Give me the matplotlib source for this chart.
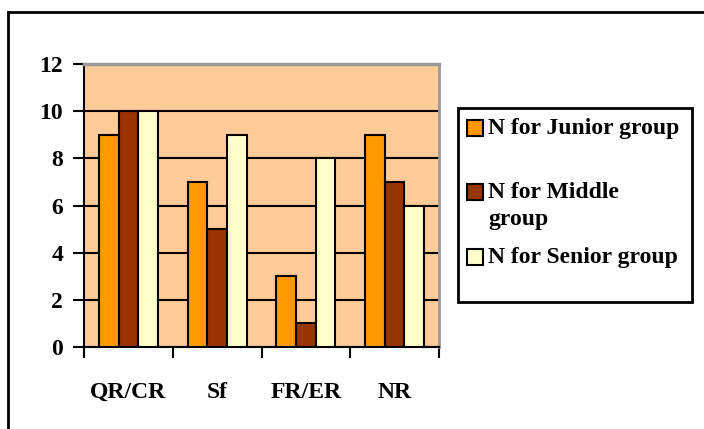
import numpy as np
import matplotlib
matplotlib.use('Agg')
import matplotlib.pyplot as plt
from matplotlib.patches import Rectangle
from matplotlib.lines import Line2D

categories = ['QR/CR', 'Sf', 'FR/ER', 'NR']
series_names = ['N for Junior group', 'N for Middle\ngroup', 'N for Senior group']
junior = [9, 7, 3, 9]
middle = [10, 5, 1, 7]
senior = [10, 9, 8, 6]
y_ticks = [0, 2, 4, 6, 8, 10, 12]

colors = ['#FF9900', '#993300', '#FFFFCC']

plt.rcParams['font.family'] = ['Liberation Serif', 'DejaVu Serif']
plt.rcParams['font.weight'] = 'bold'

fig = plt.figure(figsize=(7.04, 4.29), dpi=100)
ax = fig.add_axes([84 / 704, 82 / 429, 355 / 704, 283 / 429])
ax.set_facecolor('#FFCC99')

x = np.arange(len(categories))
width = 1 / 4.5
for i, vals in enumerate([junior, middle, senior]):
    ax.bar(x + (i - 1) * width, vals, width, color=colors[i],
           edgecolor='black', linewidth=1.5, zorder=3)

ax.set_xlim(-0.5, len(categories) - 0.5)
ax.set_ylim(0, 12)
ax.set_yticks(y_ticks)
ax.set_yticklabels([str(t) for t in y_ticks], fontsize=17, fontweight='bold')
ax.yaxis.grid(True, color='black', linewidth=1.5, zorder=0)
ax.set_axisbelow(True)

# category ticks sit between groups
ax.set_xticks(np.arange(len(categories) + 1) - 0.5)
ax.set_xticklabels([])
ax.tick_params(axis='x', direction='out', length=8, width=1.5, color='black')
ax.tick_params(axis='y', direction='out', length=8, width=1.5, color='black', pad=7)
for i, c in enumerate(categories):
    ax.text(i, -0.16, c, transform=ax.get_xaxis_transform(), ha='center', va='center',
            fontsize=17, fontweight='bold')

ax.spines['left'].set_linewidth(1.5)
ax.spines['bottom'].set_linewidth(1.5)
ax.spines['top'].set_color('#999999')
ax.spines['top'].set_linewidth(2.5)
ax.spines['right'].set_color('#999999')
ax.spines['right'].set_linewidth(2)

# outer chart border (only left and top visible)
fig.add_artist(Line2D([8 / 704, 8 / 704], [0, 1 - 12 / 429], color='black', linewidth=2,
                      transform=fig.transFigure))
fig.add_artist(Line2D([8 / 704, 1], [1 - 12 / 429, 1 - 12 / 429], color='black', linewidth=2,
                      transform=fig.transFigure))

# legend box
W, H = 704, 429
fig.add_artist(Rectangle((458 / W, 1 - 302 / H), 234 / W, 194 / H, transform=fig.transFigure,
                         facecolor='white', edgecolor='black', linewidth=2))
entry_y = [128, 192, 257]
for name, col, yy in zip(series_names, colors, entry_y):
    fig.add_artist(Rectangle((467 / W, 1 - (yy + 8) / H), 16 / W, 16 / H, transform=fig.transFigure,
                             facecolor=col, edgecolor='black', linewidth=1.5))
    fig.text(488 / W, 1 - (yy - 10) / H, name, ha='left', va='top', fontsize=17,
             fontweight='bold', linespacing=1.35)

fig.savefig('out.png', dpi=100)
